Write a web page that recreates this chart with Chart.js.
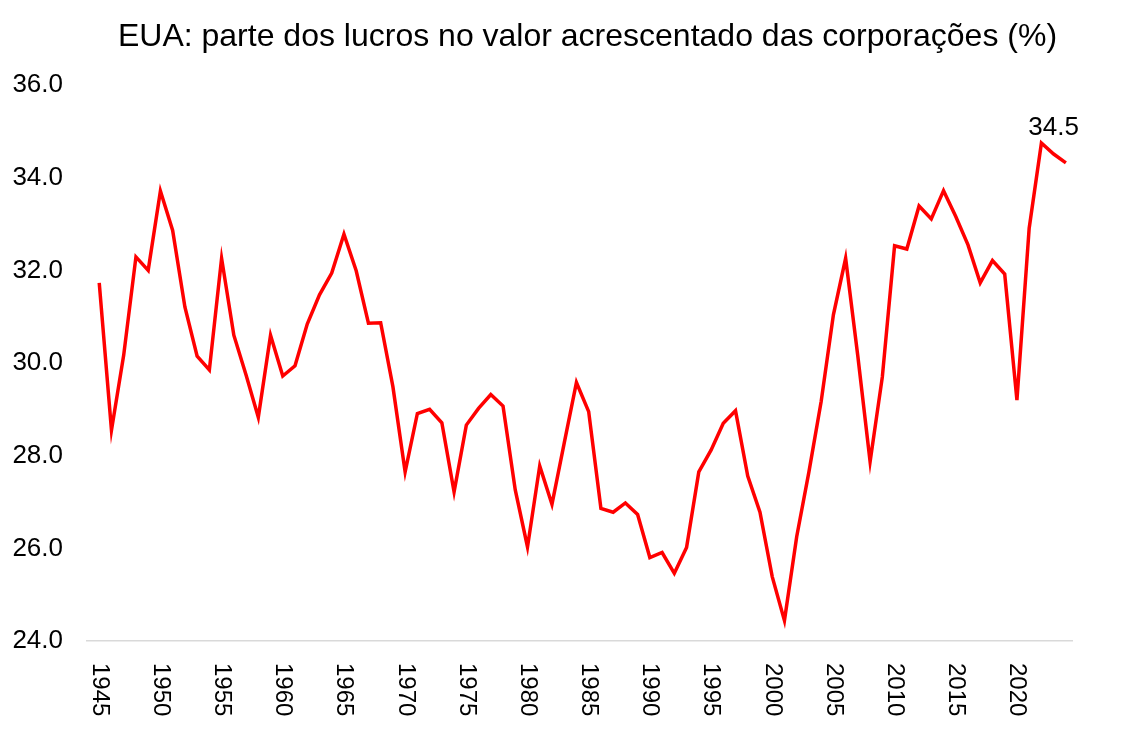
<!DOCTYPE html>
<html lang="pt">
<head>
<meta charset="utf-8">
<title>EUA: parte dos lucros</title>
<script src="https://cdn.jsdelivr.net/npm/chart.js@4.4.1/dist/chart.umd.min.js"></script>
<style>
  html, body { margin: 0; padding: 0; background: #fff; }
  #wrap { width: 1129px; height: 734px; position: relative; }
</style>
</head>
<body>
<div id="wrap"><canvas id="chart"></canvas></div>
<script>
// dados: parte dos lucros no valor acrescentado (%), 1945-2024
const years = [
  1945, 1946, 1947, 1948, 1949, 1950, 1951, 1952, 1953, 1954,
  1955, 1956, 1957, 1958, 1959, 1960, 1961, 1962, 1963, 1964,
  1965, 1966, 1967, 1968, 1969, 1970, 1971, 1972, 1973, 1974,
  1975, 1976, 1977, 1978, 1979, 1980, 1981, 1982, 1983, 1984,
  1985, 1986, 1987, 1988, 1989, 1990, 1991, 1992, 1993, 1994,
  1995, 1996, 1997, 1998, 1999, 2000, 2001, 2002, 2003, 2004,
  2005, 2006, 2007, 2008, 2009, 2010, 2011, 2012, 2013, 2014,
  2015, 2016, 2017, 2018, 2019, 2020, 2021, 2022, 2023, 2024
];

const profitShare = [
  31.73, 28.55, 30.17, 32.29, 32.00, 33.71, 32.86, 31.21, 30.15, 29.85,
  32.26, 30.60, 29.74, 28.83, 30.60, 29.72, 29.94, 30.84, 31.47, 31.94,
  32.78, 31.99, 30.86, 30.87, 29.49, 27.65, 28.91, 29.00, 28.71, 27.22,
  28.66, 29.02, 29.32, 29.07, 27.26, 26.03, 27.78, 26.95, 28.27, 29.58,
  28.95, 26.86, 26.78, 26.98, 26.73, 25.80, 25.91, 25.46, 26.02, 27.65,
  28.12, 28.70, 28.97, 27.56, 26.78, 25.39, 24.44, 26.25, 27.65, 29.17,
  31.04, 32.26, 30.14, 27.87, 29.70, 32.53, 32.46, 33.39, 33.11, 33.72,
  33.16, 32.55, 31.73, 32.21, 31.92, 29.20, 32.91, 34.75, 34.51, 34.32
];

const tickYears = [1945, 1950, 1955, 1960, 1965, 1970, 1975, 1980,
                   1985, 1990, 1995, 2000, 2005, 2010, 2015, 2020];
const yTicks = [24, 26, 28, 30, 32, 34, 36];
const labelYear = 2023;

const FONT = '"Liberation Sans", Arial, sans-serif';

// o título no original está centrado na largura toda da imagem
const titleShiftPlugin = {
  id: 'titleShift',
  afterLayout(chart) {
    const t = chart.titleBlock;
    if (!t) return;
    const shift = 587.5 - (t.left + t.right) / 2;
    t.left += shift;
    t.right += shift;
  }
};

// rótulos do eixo x rodados (lidos de cima para baixo)
const xLabelsPlugin = {
  id: 'xLabels',
  afterDraw(chart) {
    const xs = chart.scales.x;
    const ctx = chart.ctx;
    ctx.save();
    ctx.font = '24px ' + FONT;
    ctx.fillStyle = '#000';
    ctx.textAlign = 'left';
    ctx.textBaseline = 'middle';
    tickYears.forEach(function (yr) {
      const px = xs.getPixelForValue(yr);
      ctx.save();
      ctx.translate(px, xs.top + 22);
      ctx.rotate(Math.PI / 2);
      ctx.fillText(String(yr), 0, 0);
      ctx.restore();
    });
    ctx.restore();
  }
};

// valor anotado no ponto de 2023
const valueLabelPlugin = {
  id: 'valueLabel',
  afterDatasetsDraw(chart) {
    const idx = years.indexOf(labelYear);
    const pt = chart.getDatasetMeta(0).data[idx];
    if (!pt) return;
    const ctx = chart.ctx;
    ctx.save();
    ctx.font = '26px ' + FONT;
    ctx.fillStyle = '#000';
    ctx.textAlign = 'center';
    ctx.textBaseline = 'alphabetic';
    ctx.fillText(profitShare[idx].toFixed(1), pt.x, pt.y - 19);
    ctx.restore();
  }
};

const ctx = document.getElementById('chart').getContext('2d');
new Chart(ctx, {
  type: 'line',
  data: {
    datasets: [{
      label: 'Parte dos lucros',
      data: years.map((yr, i) => ({ x: yr, y: profitShare[i] })),
      borderColor: '#ff0000',
      borderWidth: 3.5,
      pointRadius: 0,
      tension: 0,
      fill: false
    }]
  },
  options: {
    responsive: true,
    maintainAspectRatio: false,
    animation: false,
    layout: { padding: { left: 10, right: 57, top: 0, bottom: 0 } },
    plugins: {
      legend: { display: false },
      tooltip: { enabled: false },
      title: {
        display: true,
        text: 'EUA: parte dos lucros no valor acrescentado das corporações (%)',
        color: '#000',
        font: { family: FONT, size: 32, weight: 'normal' },
        padding: { top: 18, bottom: 28.6 }
      }
    },
    scales: {
      x: {
        type: 'linear',
        min: 1944,
        max: 2024.5,
        afterBuildTicks: function (scale) {
          scale.ticks = tickYears.map(v => ({ value: v }));
        },
        afterFit: function (scale) { scale.height = 93; },
        ticks: { display: false },
        grid: { display: false },
        border: { display: true, color: '#d9d9d9', width: 1.5 }
      },
      y: {
        min: 24,
        max: 36,
        afterBuildTicks: function (scale) {
          scale.ticks = yTicks.map(v => ({ value: v }));
        },
        afterFit: function (scale) { scale.width = 77; },
        ticks: {
          color: '#000',
          padding: 24,
          font: { family: FONT, size: 26 },
          callback: v => Number(v).toFixed(1)
        },
        grid: { display: false, drawTicks: false },
        border: { display: false }
      }
    }
  },
  plugins: [titleShiftPlugin, xLabelsPlugin, valueLabelPlugin]
});
</script>
</body>
</html>
